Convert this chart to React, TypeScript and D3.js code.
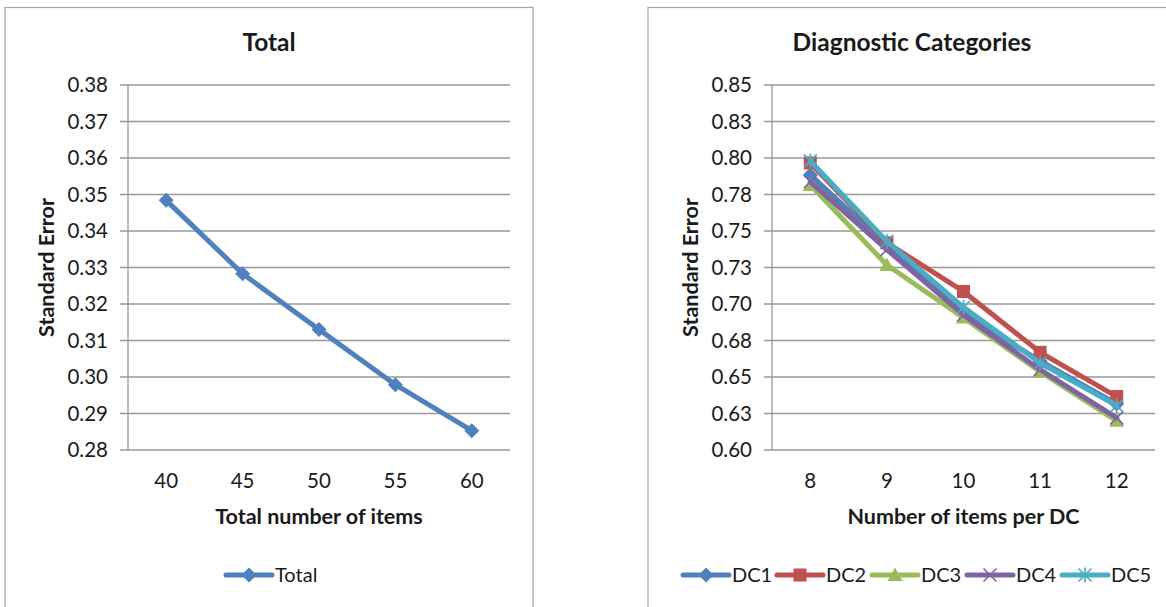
import React from "react";
import * as d3 from "d3";

// ---------- data ----------
const totalItems = [40, 45, 50, 55, 60];
const totalSE = [0.3484, 0.3283, 0.313, 0.2979, 0.2853];
const leftYTicks = [0.28, 0.29, 0.3, 0.31, 0.32, 0.33, 0.34, 0.35, 0.36, 0.37, 0.38];
const leftYLabels = ["0.28", "0.29", "0.30", "0.31", "0.32", "0.33", "0.34", "0.35", "0.36", "0.37", "0.38"];

const dcItems = [8, 9, 10, 11, 12];
const dcNames = ["DC1", "DC2", "DC3", "DC4", "DC5"];
const dc1 = [0.7884, 0.74, 0.693, 0.661, 0.6315];
const dc2 = [0.7966, 0.7419, 0.7086, 0.6669, 0.6366];
const dc3 = [0.7815, 0.7267, 0.6907, 0.6536, 0.62];
const dc4 = [0.7837, 0.7372, 0.6925, 0.655, 0.622];
const dc5 = [0.798, 0.743, 0.6977, 0.6596, 0.6304];
const rightYTicks = [0.6, 0.625, 0.65, 0.675, 0.7, 0.725, 0.75, 0.775, 0.8, 0.825, 0.85];
const rightYLabels = ["0.60", "0.63", "0.65", "0.68", "0.70", "0.73", "0.75", "0.78", "0.80", "0.83", "0.85"];

const COLORS = ["#4F81BD", "#C0504D", "#9BBB59", "#8064A2", "#4BACC6"];
const MARKERS = ["diamond", "square", "triangle", "x", "star"];

const FONT = "Lato, 'Open Sans', sans-serif";
const GRID = "#989898";
const TEXT = "#1a1a1a";

function Marker({ type, x, y, color }: { type: string; x: number; y: number; color: string }) {
  if (type === "diamond") {
    const r = 7.5;
    return <path d={`M${x},${y - r}L${x + r},${y}L${x},${y + r}L${x - r},${y}Z`} fill={color} />;
  }
  if (type === "square") {
    const r = 6.5;
    return <rect x={x - r} y={y - r} width={2 * r} height={2 * r} fill={color} />;
  }
  if (type === "triangle") {
    const r = 7.5;
    return <path d={`M${x},${y - r}L${x + r},${y + r * 0.8}L${x - r},${y + r * 0.8}Z`} fill={color} />;
  }
  if (type === "x") {
    const r = 6.5;
    return (
      <path d={`M${x - r},${y - r}L${x + r},${y + r}M${x - r},${y + r}L${x + r},${y - r}`} stroke={color} strokeWidth={1.6} />
    );
  }
  const r = 6.5;
  return (
    <path
      d={`M${x - r},${y - r}L${x + r},${y + r}M${x - r},${y + r}L${x + r},${y - r}M${x},${y - r - 1}L${x},${y + r + 1}`}
      stroke={color}
      strokeWidth={1.6}
    />
  );
}

interface Series {
  name: string;
  values: number[];
  color: string;
  marker: string;
}

function Panel(props: {
  frame: [number, number, number, number];
  plot: [number, number, number, number];
  title: string;
  xTitle: string;
  categories: number[];
  yDomain: [number, number];
  yTicks: number[];
  yLabels: string[];
  series: Series[];
  legendX: number[];
}) {
  const { frame, plot, title, xTitle, categories, yDomain, yTicks, yLabels, series, legendX } = props;
  const [fx0, fy0, fx1, fy1] = frame;
  const [px0, py0, px1, py1] = plot;
  const x = d3
    .scaleBand<number>()
    .domain(categories)
    .range([px0, px1])
    .padding(0);
  const y = d3.scaleLinear().domain(yDomain).range([py1, py0]);
  const cx = (c: number) => (x(c) as number) + x.bandwidth() / 2;
  const line = d3
    .line<number>()
    .x((_, i) => cx(categories[i]))
    .y((v) => y(v));
  const frameCx = (fx0 + fx1) / 2;
  const plotCx = (px0 + px1) / 2;
  const plotCy = (py0 + py1) / 2;
  const axisTitleX = px0 - 82;
  return (
    <g>
      <rect x={fx0} y={fy0} width={fx1 - fx0} height={fy1 - fy0} fill="#fff" stroke="#a6a6a6" strokeWidth={1.2} />
      <text x={frameCx} y={51} textAnchor="middle" fontFamily={FONT} fontWeight={700} fontSize={24.5} fill={TEXT}>
        {title}
      </text>
      {yTicks.map((t, i) => (
        <g key={i}>
          <line x1={px0 - 8} x2={px1} y1={y(t)} y2={y(t)} stroke={GRID} strokeWidth={1.3} />
          <text
            x={px0 - 20}
            y={y(t)}
            dy="0.35em"
            textAnchor="end"
            fontFamily={FONT}
            fontSize={20.5}
            fill={TEXT}
          >
            {yLabels[i]}
          </text>
        </g>
      ))}
      <line x1={px0} x2={px0} y1={py0} y2={py1} stroke={GRID} strokeWidth={1.3} />
      {categories.map((c) => (
        <text
          key={c}
          x={cx(c)}
          y={481}
          dy="0.35em"
          textAnchor="middle"
          fontFamily={FONT}
          fontSize={20.5}
          fill={TEXT}
        >
          {c}
        </text>
      ))}
      <text x={plotCx} y={516} dy="0.35em" textAnchor="middle" fontFamily={FONT} fontWeight={700} fontSize={21.5} fill={TEXT}>
        {xTitle}
      </text>
      <text
        transform={`translate(${axisTitleX},${plotCy}) rotate(-90)`}
        textAnchor="middle"
        dy="0.35em"
        fontFamily={FONT}
        fontWeight={700}
        fontSize={21.5}
        fill={TEXT}
      >
        Standard Error
      </text>
      {series.map((s) => (
        <g key={s.name}>
          <path d={line(s.values) || ""} fill="none" stroke={s.color} strokeWidth={5} strokeLinejoin="round" strokeLinecap="round" />
          {s.values.map((v, i) => (
            <Marker key={i} type={s.marker} x={cx(categories[i])} y={y(v)} color={s.color} />
          ))}
        </g>
      ))}
      {series.map((s, i) => (
        <g key={"lg" + s.name}>
          <line x1={legendX[i]} x2={legendX[i] + 46} y1={575} y2={575} stroke={s.color} strokeWidth={5} strokeLinecap="round" />
          <Marker type={s.marker} x={legendX[i] + 23} y={575} color={s.color} />
          <text x={legendX[i] + 49} y={575} dy="0.35em" fontFamily={FONT} fontSize={20} fill={TEXT}>
            {s.name}
          </text>
        </g>
      ))}
    </g>
  );
}

export default function App() {
  const leftSeries: Series[] = [{ name: "Total", values: totalSE, color: COLORS[0], marker: "diamond" }];
  const dcValues = [dc1, dc2, dc3, dc4, dc5];
  const rightSeries: Series[] = dcNames.map((n, i) => ({
    name: n,
    values: dcValues[i],
    color: COLORS[i],
    marker: MARKERS[i],
  }));
  return (
    <svg
      width={1166}
      height={607}
      style={{ position: "absolute", left: 0, top: 0, background: "#fff" }}
    >
      <rect x={0} y={0} width={1166} height={607} fill="#fff" />
      <Panel
        frame={[5, 7.5, 533, 612]}
        plot={[128, 85, 510, 450]}
        title="Total"
        xTitle="Total number of items"
        categories={totalItems}
        yDomain={[0.28, 0.38]}
        yTicks={leftYTicks}
        yLabels={leftYLabels}
        series={leftSeries}
        legendX={[226]}
      />
      <Panel
        frame={[648, 7.5, 1176, 612]}
        plot={[772, 85, 1155, 450]}
        title="Diagnostic Categories"
        xTitle="Number of items per DC"
        categories={dcItems}
        yDomain={[0.6, 0.85]}
        yTicks={rightYTicks}
        yLabels={rightYLabels}
        series={rightSeries}
        legendX={[683, 777, 872, 967, 1062]}
      />
    </svg>
  );
}
